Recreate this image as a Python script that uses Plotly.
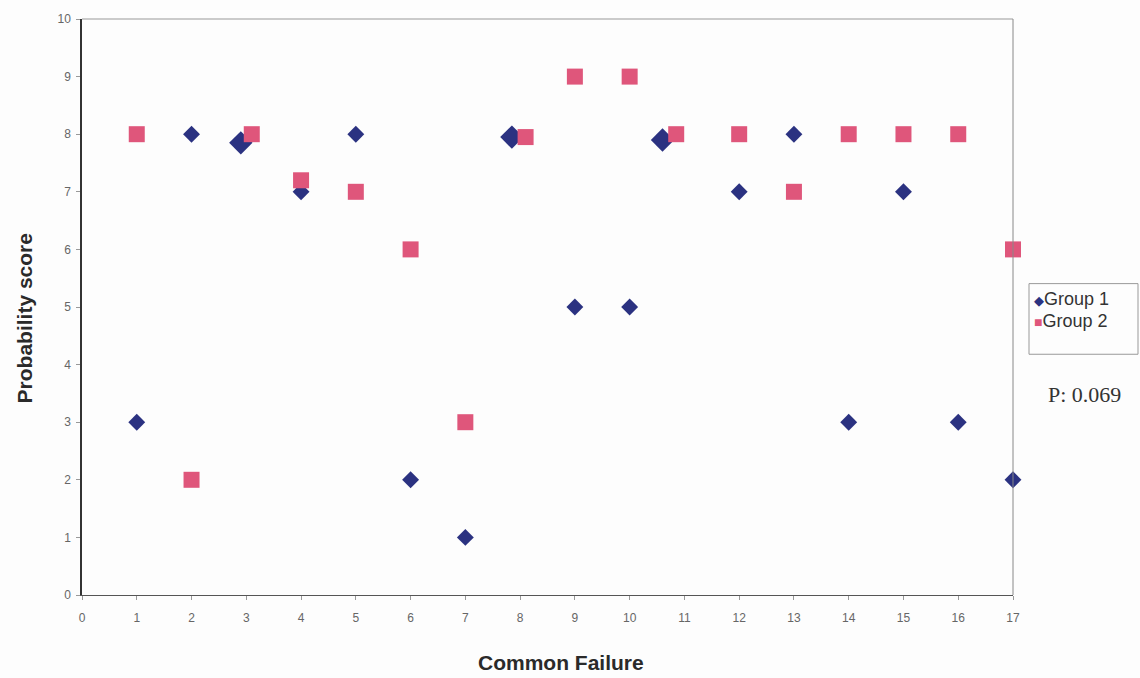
import plotly.graph_objects as go

# Data
g1_x = [1, 2, 2.9, 4, 5, 6, 7, 7.85, 9, 10, 10.6, 12, 13, 14, 15, 16, 17]
g1_y = [3, 8, 7.85, 7, 8, 2, 1, 7.95, 5, 5, 7.9, 7, 8, 3, 7, 3, 2]
g2_x = [1, 2, 3.1, 4, 5, 6, 7, 8.1, 9, 10, 10.85, 12, 13, 14, 15, 16, 17]
g2_y = [8, 2, 8, 7.2, 7, 6, 3, 7.95, 9, 9, 8, 8, 7, 8, 8, 8, 6]
x_ticks = list(range(0, 18))
y_ticks = list(range(0, 11))
series_names = ["Group 1", "Group 2"]
p_text = "P: 0.069"

navy = "#2B3281"
pink = "#DF567B"

g1_sizes = [13 if abs(x - round(x)) < 0.01 else 18 for x in g1_x]

fig = go.Figure()
fig.add_trace(go.Scatter(
    x=g1_x, y=g1_y, mode="markers", name=series_names[0],
    marker=dict(symbol="diamond", size=g1_sizes, color=navy, opacity=1, line=dict(width=0)),
    cliponaxis=False, showlegend=False))
fig.add_trace(go.Scatter(
    x=g2_x, y=g2_y, mode="markers", name=series_names[1],
    marker=dict(symbol="square", size=16, color=pink, opacity=1, line=dict(width=0)),
    cliponaxis=False, showlegend=False))

L, R, T, B = 82, 127, 16, 83
W, H = 1140, 678
pw, ph = W - L - R, H - T - B

def px_x(p):
    return (p - L) / pw

def px_y(p):
    return (H - B - p) / ph

fig.update_layout(
    width=W, height=H,
    margin=dict(l=L, r=R, t=T, b=B),
    paper_bgcolor="#fdfdfd", plot_bgcolor="#fdfdfd",
    font=dict(family="Arial, Liberation Sans, sans-serif", color="#555"),
    xaxis=dict(range=[0, 17], tickvals=x_ticks, showgrid=False, zeroline=False,
               showline=True, linecolor="#555", linewidth=1, mirror=False,
               ticks="outside", ticklen=4, tickcolor="#999", ticklabelstandoff=8,
               tickfont=dict(size=12, color="#666")),
    yaxis=dict(range=[0, 10], tickvals=y_ticks, showgrid=False, zeroline=False,
               showline=True, linecolor="#333", linewidth=1.5, mirror=False,
               ticks="outside", ticklen=4, tickcolor="#999", ticklabelstandoff=3,
               tickfont=dict(size=12, color="#666")),
    shapes=[
        dict(type="line", xref="paper", yref="paper", x0=0, x1=1, y0=1, y1=1,
             line=dict(color="#999", width=1)),
        dict(type="line", xref="paper", yref="paper", x0=1, x1=1, y0=0, y1=1,
             line=dict(color="#888", width=1)),
        dict(type="rect", xref="paper", yref="paper",
             x0=px_x(1029), x1=px_x(1138), y0=px_y(353), y1=px_y(282),
             line=dict(color="#999", width=1), fillcolor="rgba(0,0,0,0)"),
    ],
    annotations=[
        dict(text="<b>Common Failure</b>", xref="paper", yref="paper",
             x=px_x(561), y=px_y(663), showarrow=False,
             font=dict(size=21, color="#2a2a2a", family="Arial, Liberation Sans"),
             xanchor="center", yanchor="middle"),
        dict(text="<b>Probability score</b>", xref="paper", yref="paper",
             x=px_x(24), y=px_y(317), showarrow=False, textangle=-90,
             font=dict(size=21, color="#2a2a2a", family="Arial, Liberation Sans"),
             xanchor="center", yanchor="middle"),
        dict(text=f"<span style='color:{navy};font-size:13px'>◆</span>{series_names[0]}",
             xref="paper", yref="paper", x=px_x(1032), y=px_y(297),
             showarrow=False, xanchor="left", yanchor="middle",
             font=dict(size=18, color="#333", family="Arial, Liberation Sans")),
        dict(text=f"<span style='color:{pink};font-size:14px'>■</span>{series_names[1]}",
             xref="paper", yref="paper", x=px_x(1032), y=px_y(320),
             showarrow=False, xanchor="left", yanchor="middle",
             font=dict(size=18, color="#333", family="Arial, Liberation Sans")),
        dict(text=p_text, xref="paper", yref="paper", x=px_x(1084), y=px_y(393),
             showarrow=False, xanchor="center", yanchor="middle",
             font=dict(size=22, color="#333", family="Liberation Serif, Times New Roman, serif")),
    ],
)

fig.write_html("out.html")
